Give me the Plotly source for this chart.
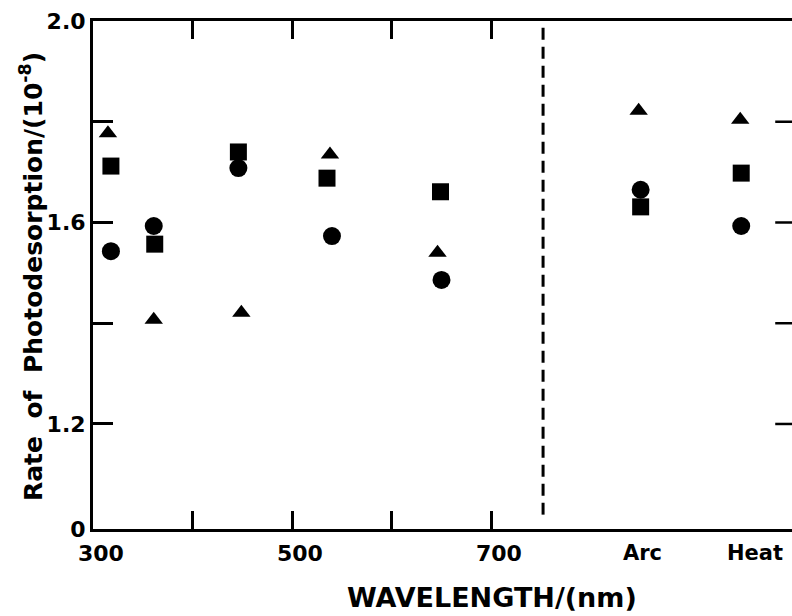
import plotly.graph_objects as go

# ---- data ----
circle_x = [318, 361, 446, 540, 650, 850, 951]
circle_y = [1.543, 1.593, 1.708, 1.573, 1.486, 1.665, 1.593]

square_x = [318, 362, 446, 535, 649, 850, 951]
square_y = [1.712, 1.557, 1.740, 1.688, 1.661, 1.631, 1.698]

triangle_x = [315, 361, 449, 538, 646, 848, 950]
triangle_y = [1.777, 1.407, 1.421, 1.735, 1.540, 1.822, 1.804]

x_tick_vals = [300, 400, 500, 600, 700]
x_label_vals = [300, 500, 700]
x_label_text = ["300", "500", "700"]
source_labels = ["Arc", "Heat"]
source_label_x = [852, 965]

Y_MIN = 0.9915
y_tick_vals = [Y_MIN, 1.2, 1.6, 2.0]
y_tick_text = ["0", "1.2", "1.6", "2.0"]
y_minor_vals = [1.4, 1.8]
right_tick_vals = [1.2, 1.4, 1.6, 1.8]
divider_x = 752

FONT = "DejaVu Sans"
BOLD = dict(family=FONT, color="black", weight="bold")

fig = go.Figure()
fig.add_trace(go.Scatter(x=circle_x, y=circle_y, mode="markers",
                         marker=dict(symbol="circle", size=18, color="black"),
                         showlegend=False))
fig.add_trace(go.Scatter(x=square_x, y=square_y, mode="markers",
                         marker=dict(symbol="square", size=17, color="black"),
                         showlegend=False))
fig.add_trace(go.Scatter(x=triangle_x, y=triangle_y, mode="markers",
                         marker=dict(symbol="triangle-up", size=16, color="black"),
                         showlegend=False))

# dashed divider
fig.add_shape(type="line", x0=divider_x, x1=divider_x, xref="x",
              y0=1.02, y1=2.0, yref="y",
              line=dict(color="black", width=3, dash="12px,7px"))

# right-side inward ticks
for v in right_tick_vals:
    fig.add_shape(type="line", xref="paper", x0=0.976, x1=1.0,
                  yref="y", y0=v, y1=v, line=dict(color="black", width=2.5))

annotations = []
for lab, lx in zip(x_label_text, x_label_vals):
    annotations.append(dict(x=lx + 8, xref="x", y=0, yref="paper", yshift=-24,
                            text=lab, showarrow=False, xanchor="center",
                            yanchor="middle", font=dict(size=22, **BOLD)))
for lab, lx in zip(source_labels, source_label_x):
    annotations.append(dict(x=lx, xref="x", y=0, yref="paper", yshift=-24,
                            text=lab, showarrow=False, xanchor="center",
                            yanchor="middle", font=dict(size=21, **BOLD)))
annotations.append(dict(x=(492 - 93) / 699, xref="paper", y=0, yref="paper",
                        yshift=-68, text="WAVELENGTH/(nm)", showarrow=False,
                        xanchor="center", yanchor="middle",
                        font=dict(size=27, **BOLD)))
annotations.append(dict(x=(31 - 93) / 699, xref="paper", y=0.5, yref="paper",
                        yshift=-2,
                        text="Rate&nbsp;&nbsp;of&nbsp;&nbsp;Photodesorption/(10<sup>-8</sup>)",
                        textangle=-90, showarrow=False, xanchor="center",
                        yanchor="middle", font=dict(size=25, **BOLD)))

fig.update_layout(
    width=792, height=616,
    margin=dict(l=93, r=0, t=21, b=87),
    plot_bgcolor="white", paper_bgcolor="white",
    annotations=annotations,
    xaxis=dict(range=[300, 1002], showgrid=False, zeroline=False,
               showline=True, linecolor="black", linewidth=3, mirror="ticks",
               ticks="inside", ticklen=18, tickwidth=2.5, tickcolor="black",
               tickvals=x_tick_vals, showticklabels=False),
    yaxis=dict(range=[Y_MIN, 2.0], showgrid=False, zeroline=False,
               showline=True, linecolor="black", linewidth=3,
               ticks="inside", ticklen=20, tickwidth=2.5, tickcolor="black",
               tickvals=y_tick_vals, ticktext=y_tick_text,
               minor=dict(tickvals=y_minor_vals, ticks="inside", ticklen=20,
                          tickwidth=2.5, tickcolor="black", showgrid=False),
               tickfont=dict(size=22, **BOLD)),
)

fig.write_html("out.html")
